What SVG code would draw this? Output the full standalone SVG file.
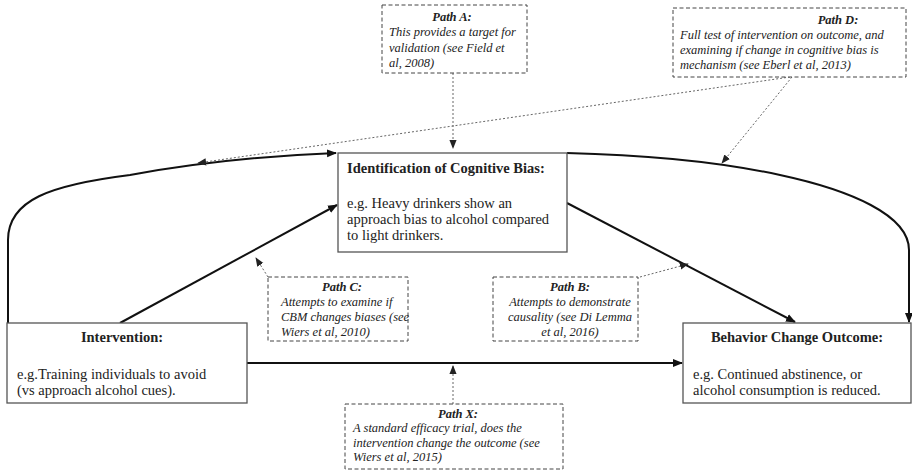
<svg xmlns="http://www.w3.org/2000/svg" width="912" height="473" viewBox="0 0 912 473">
  <defs>
    <marker id="head" viewBox="0 0 10 10" refX="9" refY="5" markerWidth="10" markerHeight="10" markerUnits="userSpaceOnUse" orient="auto">
      <path d="M0,1 L10,5 L0,9 Z" fill="#111"/>
    </marker>
    <marker id="headSmall" viewBox="0 0 10 10" refX="9" refY="5" markerWidth="9" markerHeight="9" markerUnits="userSpaceOnUse" orient="auto">
      <path d="M0,1 L10,5 L0,9 Z" fill="#222"/>
    </marker>
  </defs>
  <style>
    .box { fill: #fff; stroke: #555; stroke-width: 1.3; }
    .dbox { fill: #fff; stroke: #444; stroke-width: 1; stroke-dasharray: 4 2.5; }
    .conn { fill: none; stroke: #111; stroke-width: 2; }
    .dot { fill: none; stroke: #666; stroke-width: 1; stroke-dasharray: 2 2; }
    .title { font-family: "Liberation Serif", "Times New Roman", serif; font-size: 14.5px; font-weight: bold; fill: #222; }
    .body { font-family: "Liberation Serif", "Times New Roman", serif; font-size: 14.5px; fill: #222; }
    .ptitle { font-family: "Liberation Serif", "Times New Roman", serif; font-size: 12.5px; font-weight: bold; font-style: italic; fill: #222; }
    .pbody { font-family: "Liberation Serif", "Times New Roman", serif; font-size: 12.5px; font-style: italic; fill: #222; }
  </style>

  <rect width="912" height="473" fill="#fff"/>

  <!-- connectors -->
  <g id="connectors">
    <!-- arc from intervention up to the bias box -->
    <path class="conn" d="M8,323 L8,240 C8,200 50,185 130,175 C190,164 260,156 336,153" marker-end="url(#head)"/>
    <!-- arc from the bias box down to the outcome -->
    <path class="conn" d="M567,153 C650,155 720,162 780,175 C850,190 909,215 909,250 L909,322" marker-end="url(#head)"/>
    <!-- intervention -> bias -->
    <path class="conn" d="M120,323 L337,205" marker-end="url(#head)"/>
    <!-- bias -> outcome -->
    <path class="conn" d="M567,203 L795,322" marker-end="url(#head)"/>
    <!-- intervention -> outcome -->
    <path class="conn" d="M247,363 L682,363" marker-end="url(#head)"/>

    <!-- path annotations -->
    <path class="dot" d="M453,73 L453,148" marker-end="url(#headSmall)"/>
    <path class="dot" d="M790,77 L198,163" marker-end="url(#headSmall)"/>
    <path class="dot" d="M792,77 L722,163" marker-end="url(#headSmall)"/>
    <path class="dot" d="M268,277 L256,258" marker-end="url(#headSmall)"/>
    <path class="dot" d="M640,277 L688,264" marker-end="url(#headSmall)"/>
    <path class="dot" d="M453,404 L453,366" marker-end="url(#headSmall)"/>
  </g>

  <!-- main boxes -->
  <g id="bias">
    <rect class="box" x="338" y="153" width="229" height="99"/>
    <text class="title" x="347" y="173">Identification of Cognitive Bias:</text>
    <text class="body" x="347" y="208">e.g. Heavy drinkers show an</text>
    <text class="body" x="347" y="224">approach bias to alcohol compared</text>
    <text class="body" x="347" y="240">to light drinkers.</text>
  </g>

  <g id="intervention">
    <rect class="box" x="7" y="323" width="240" height="80"/>
    <text class="title" x="122" y="342" text-anchor="middle">Intervention:</text>
    <text class="body" x="17" y="379">e.g.Training individuals to avoid</text>
    <text class="body" x="17" y="395">(vs approach alcohol cues).</text>
  </g>

  <g id="outcome">
    <rect class="box" x="683" y="323" width="228" height="80"/>
    <text class="title" x="797" y="342" text-anchor="middle">Behavior Change Outcome:</text>
    <text class="body" x="693" y="379">e.g. Continued abstinence, or</text>
    <text class="body" x="693" y="395">alcohol consumption is reduced.</text>
  </g>

  <!-- path notes -->
  <g id="pathA">
    <rect class="dbox" x="382" y="5" width="145" height="68"/>
    <text class="ptitle" x="452" y="21" text-anchor="middle">Path A:</text>
    <text class="pbody" x="389" y="36">This provides a target for</text>
    <text class="pbody" x="389" y="52">validation (see Field et</text>
    <text class="pbody" x="389" y="67">al, 2008)</text>
  </g>

  <g id="pathD">
    <rect class="dbox" x="673" y="8" width="233" height="69"/>
    <text class="ptitle" x="838" y="24" text-anchor="middle">Path D:</text>
    <text class="pbody" x="680" y="39">Full test of intervention on outcome, and</text>
    <text class="pbody" x="680" y="54">examining if change in cognitive bias is</text>
    <text class="pbody" x="680" y="69">mechanism (see Eberl et al, 2013)</text>
  </g>

  <g id="pathC">
    <rect class="dbox" x="268" y="277" width="140" height="64"/>
    <text class="ptitle" x="342" y="291" text-anchor="middle">Path C:</text>
    <text class="pbody" x="281" y="306">Attempts to examine if</text>
    <text class="pbody" x="281" y="321">CBM changes biases (see</text>
    <text class="pbody" x="281" y="336">Wiers et al, 2010)</text>
  </g>

  <g id="pathB">
    <rect class="dbox" x="493" y="277" width="145" height="64"/>
    <text class="ptitle" x="570" y="291" text-anchor="middle">Path B:</text>
    <text class="pbody" x="570" y="306" text-anchor="middle">Attempts to demonstrate</text>
    <text class="pbody" x="570" y="321" text-anchor="middle">causality (see Di Lemma</text>
    <text class="pbody" x="570" y="336" text-anchor="middle">et al, 2016)</text>
  </g>

  <g id="pathX">
    <rect class="dbox" x="345" y="404" width="218" height="65"/>
    <text class="ptitle" x="458" y="418" text-anchor="middle">Path X:</text>
    <text class="pbody" x="353" y="432">A standard efficacy trial, does the</text>
    <text class="pbody" x="353" y="447">intervention change the outcome (see</text>
    <text class="pbody" x="353" y="461">Wiers et al, 2015)</text>
  </g>
</svg>
